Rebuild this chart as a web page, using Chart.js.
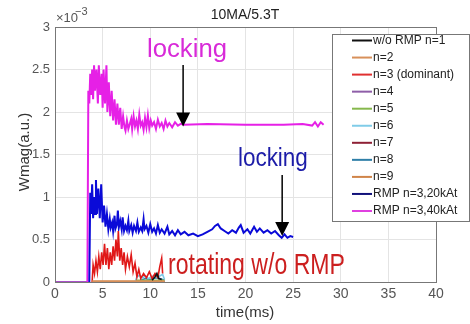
<!DOCTYPE html>
<html>
<head>
<meta charset="utf-8">
<script src="https://cdn.jsdelivr.net/npm/chart.js@4/dist/chart.umd.min.js"></script>
<style>
  body { margin: 0; background: #fff; }
  canvas { display: block; }
</style>
</head>
<body>
<canvas id="chart" width="470" height="324"></canvas>
<script>
// Values are in units of 1e-3 (see the x10^-3 label)
const xTicks = [0, 5, 10, 15, 20, 25, 30, 35, 40];
const yTicks = [0, 0.5, 1, 1.5, 2, 2.5, 3];

// RMP n=3, 40kAt (magenta)
const rmp40Time = [
  0, 3.4, 3.5, 3.6, 3.7, 3.8, 3.9, 4.0, 4.1, 4.2,
  4.35, 4.5, 4.6, 4.75, 4.9, 5.0, 5.1, 5.25, 5.4, 5.5,
  5.65, 5.8, 5.95, 6.1, 6.25, 6.4,
  6.55, 6.7, 6.85, 7.0, 7.15, 7.3, 7.4, 7.55, 7.7, 7.85,
  8.0, 8.1, 8.25, 8.4, 8.55, 8.7, 8.85, 9.0, 9.15, 9.3,
  9.45, 9.6, 9.75, 9.9, 10.05, 10.2, 10.4, 10.6, 10.8, 11.0,
  11.2, 11.4, 11.6, 11.8, 12.0, 12.3, 12.6, 12.9, 13.2, 13.5,
  16, 20, 24, 26, 27.0, 27.3, 27.6, 27.9, 28.2,
];
const rmp40Val = [
  0, 0, 2.25, 2.1, 2.45, 2.2, 2.5, 2.15, 2.55, 2.25,
  2.5, 2.1, 2.55, 2.2, 2.45, 2.05, 2.5, 2.1, 2.55, 2.0,
  2.35, 1.95, 2.25, 1.9, 2.15, 1.85,
  2.1, 1.85, 2.05, 1.8, 1.95, 1.82, 1.78, 1.9, 1.8, 1.86,
  1.92, 1.8, 1.95, 1.83, 1.9, 1.8, 1.97, 1.84, 1.88, 1.79,
  1.93, 1.82, 1.96, 1.81, 1.9, 1.84, 1.88, 1.8, 1.91, 1.83,
  1.87, 1.8, 1.9, 1.83, 1.87, 1.82, 1.88, 1.84, 1.86, 1.85,
  1.86, 1.85, 1.85, 1.86, 1.84, 1.88, 1.83, 1.88, 1.85,
];

// RMP n=3, 20kAt (blue)
const rmp20Time = [
  3.6, 3.7, 3.8, 3.9, 4.0, 4.1, 4.2, 4.3, 4.4, 4.55,
  4.7, 4.85, 5.0, 5.15, 5.3, 5.45,
  5.6, 5.75, 5.85, 6.0, 6.1, 6.25, 6.35, 6.5, 6.6, 6.7,
  6.85, 7.0, 7.1, 7.25, 7.4, 7.55, 7.7, 7.8, 8.0, 8.15,
  8.3, 8.5, 8.65, 8.8, 9.0, 9.15, 9.3, 9.4, 9.6, 9.8,
  10.0, 10.2, 10.4, 10.6, 10.8, 11.0, 11.2, 11.5, 11.8, 12.0,
  12.3, 12.6, 12.9, 13.2, 13.6, 14.0, 14.5, 15.0, 15.5, 16.0,
  16.5, 16.8, 17.1, 17.4, 17.8, 18.2, 18.6, 19.0, 19.3, 19.5,
  19.8, 20.2, 20.5, 20.9, 21.2, 21.5, 21.9, 22.3, 22.7, 23.1,
  23.5, 23.8, 24.1, 24.4, 24.7, 25.0,
];
const rmp20Val = [
  0, 1.05, 0.8, 1.15, 0.75, 1.0, 0.8, 1.2, 0.8, 1.1,
  0.75, 1.15, 0.7, 0.9, 0.65, 0.8,
  0.62, 0.74, 0.64, 0.7, 0.6, 0.78, 0.63, 0.68, 0.84, 0.64,
  0.72, 0.62, 0.76, 0.6, 0.66, 0.61, 0.72, 0.6, 0.67, 0.58,
  0.66, 0.6, 0.7, 0.59, 0.64, 0.6, 0.74, 0.62, 0.66, 0.58,
  0.68, 0.59, 0.63, 0.57, 0.67, 0.58, 0.62, 0.57, 0.65, 0.56,
  0.6, 0.55, 0.61, 0.56, 0.59, 0.55, 0.57, 0.54, 0.56, 0.59,
  0.62, 0.66, 0.68, 0.63, 0.6, 0.57, 0.61, 0.58, 0.64, 0.67,
  0.58, 0.62, 0.57, 0.65, 0.59, 0.63, 0.58, 0.61, 0.57, 0.6,
  0.55, 0.52, 0.56, 0.52, 0.54, 0.53,
];

// w/o RMP, n=3 (dominant, red)
const n3Time = [3.9, 4.0, 4.15, 4.3, 4.45, 4.6, 4.75, 4.9, 5.05, 5.2, 5.35, 5.5, 5.65, 5.8, 5.95, 6.1, 6.25, 6.4, 6.55, 6.65, 6.8, 6.95, 7.1, 7.25, 7.4, 7.6, 7.8, 8.0, 8.2, 8.4, 8.6, 8.8, 9.0, 9.3, 9.6, 9.9, 10.2, 10.5, 10.8, 11.0, 11.2, 11.3];
const n3Val = [0, 0.2, 0.1, 0.25, 0.12, 0.3, 0.15, 0.35, 0.2, 0.45, 0.2, 0.4, 0.15, 0.35, 0.2, 0.42, 0.25, 0.5, 0.3, 0.6, 0.25, 0.4, 0.2, 0.35, 0.15, 0.3, 0.18, 0.32, 0.12, 0.22, 0.06, 0.15, 0.04, 0.1, 0.05, 0.12, 0.04, 0.1, 0.05, 0.18, 0.28, 0.1];

// the small modes, near zero
const n1Time = [10.2, 10.5, 10.7, 10.9, 11.2];
const n1Val = [0.02, 0.06, 0.1, 0.04, 0.03];
const n2Time = [3.9, 11.5];
const n2Val = [0.01, 0.01];
const n4Time = [0, 3.3];
const n4Val = [0, 0];
const n5Time = [8.5, 11.5];
const n5Val = [0.02, 0.02];
const n6Time = [8.4, 8.6, 8.9, 9.2, 9.5, 9.8, 10.1, 10.4, 10.7, 11.0, 11.3, 11.5];
const n6Val = [0, 0.06, 0.08, 0.05, 0.07, 0.04, 0.06, 0.08, 0.05, 0.07, 0.09, 0.03];
const n7Time = [4.0, 11.5];
const n7Val = [0, 0];
const n8Time = [9.0, 9.5, 10.0, 10.5, 11.0, 11.5];
const n8Val = [0.02, 0.04, 0.03, 0.05, 0.04, 0.02];
const n9Time = [4.0, 11.5];
const n9Val = [0.005, 0.005];

const labels = ["w/o RMP n=1", "n=2", "n=3 (dominant)", "n=4", "n=5", "n=6", "n=7", "n=8", "n=9", "RMP n=3,20kAt", "RMP n=3,40kAt"];

function pts(t, v) {
  return t.map((x, i) => ({ x: x, y: v[i] }));
}

function line(label, color, t, v, width) {
  return {
    label: label,
    data: pts(t, v),
    borderColor: color,
    backgroundColor: color,
    borderWidth: width || 1.6,
    pointRadius: 0,
    tension: 0,
  };
}

const datasets = [
  line(labels[0], "#111111", n1Time, n1Val),
  line(labels[1], "#d8905a", n2Time, n2Val),
  line(labels[2], "#e01818", n3Time, n3Val),
  line(labels[3], "#9a5fc0", n4Time, n4Val),
  line(labels[4], "#84b84a", n5Time, n5Val),
  line(labels[5], "#7cc8e8", n6Time, n6Val),
  line(labels[6], "#8e1f35", n7Time, n7Val),
  line(labels[7], "#2a7fb0", n8Time, n8Val),
  line(labels[8], "#c88040", n9Time, n9Val),
  line(labels[9], "#0a0ad8", rmp20Time, rmp20Val, 2),
  line(labels[10], "#e620e6", rmp40Time, rmp40Val, 2),
];

// legend line colours (slightly softer than the traces)
const legendColors = ["#111111", "#d8905a", "#e03030", "#8e5ea8", "#86b84c", "#80cce8", "#8e2035", "#2f7fa8", "#d08448", "#10107a", "#e040e0"];

// draw text squeezed to a given width (the original uses a narrow face)
function squeezeText(ctx, text, x, y, width) {
  const w = ctx.measureText(text).width;
  ctx.save();
  ctx.translate(x, y);
  ctx.scale(width / w, 1);
  ctx.fillText(text, 0, 0);
  ctx.restore();
}

function arrow(ctx, x, y0, tip) {
  ctx.strokeStyle = "#000";
  ctx.fillStyle = "#000";
  ctx.lineWidth = 1.5;
  ctx.beginPath();
  ctx.moveTo(x, y0);
  ctx.lineTo(x, tip - 12);
  ctx.stroke();
  ctx.beginPath();
  ctx.moveTo(x - 7, tip - 14);
  ctx.lineTo(x + 7, tip - 14);
  ctx.lineTo(x, tip);
  ctx.closePath();
  ctx.fill();
}

const overlay = {
  id: "overlay",
  afterDraw(chart) {
    const { ctx, chartArea: a, scales } = chart;
    const px = (t) => scales.x.getPixelForValue(t);
    const py = (v) => scales.y.getPixelForValue(v);
    ctx.save();

    // axes box
    ctx.strokeStyle = "#777";
    ctx.lineWidth = 1;
    ctx.strokeRect(a.left + 0.5, a.top + 0.5, a.right - a.left, a.bottom - a.top);

    // title and exponent
    ctx.fillStyle = "#222";
    ctx.font = "14px 'Liberation Sans', Arial, sans-serif";
    ctx.textAlign = "center";
    ctx.textBaseline = "alphabetic";
    ctx.fillText("10MA/5.3T", 245, 19);
    ctx.textAlign = "left";
    ctx.fillStyle = "#555";
    ctx.font = "13px 'Liberation Sans', Arial, sans-serif";
    ctx.fillText("\u00d710", 56, 22);
    ctx.font = "11px 'Liberation Sans', Arial, sans-serif";
    ctx.fillText("\u22123", 75, 15);

    // axis titles
    ctx.fillStyle = "#333";
    ctx.font = "15px 'Liberation Sans', Arial, sans-serif";
    ctx.textAlign = "center";
    ctx.fillText("time(ms)", 245, 317);
    ctx.save();
    ctx.translate(29, 152);
    ctx.rotate(-Math.PI / 2);
    ctx.fillText("Wmag(a.u.)", 0, 0);
    ctx.restore();

    // annotations
    ctx.textAlign = "left";
    ctx.font = "26px 'Liberation Sans', Arial, sans-serif";
    ctx.fillStyle = "#d82ad8";
    squeezeText(ctx, "locking", px(9.66), py(2.647), 80);
    ctx.fillStyle = "#1c1ca8";
    squeezeText(ctx, "locking", px(19.2), py(1.365), 70);
    ctx.font = "29px 'Liberation Sans', Arial, sans-serif";
    ctx.fillStyle = "#cc1f1f";
    squeezeText(ctx, "rotating w/o RMP", px(11.86), py(0.094), 177);

    arrow(ctx, px(13.45), 65, py(1.83));
    arrow(ctx, px(23.85), 175, py(0.54));

    // legend box
    const lx = 332, ly = 34, lw = 137, lh = 187;
    ctx.fillStyle = "#fff";
    ctx.fillRect(lx, ly, lw, lh);
    ctx.strokeStyle = "#777";
    ctx.lineWidth = 1;
    ctx.strokeRect(lx + 0.5, ly + 0.5, lw, lh);
    ctx.font = "12px 'Liberation Sans', Arial, sans-serif";
    ctx.textBaseline = "middle";
    labels.forEach((label, i) => {
      const yy = 40.5 + i * 17.05;
      ctx.strokeStyle = legendColors[i];
      ctx.lineWidth = 2;
      ctx.beginPath();
      ctx.moveTo(352, yy);
      ctx.lineTo(372, yy);
      ctx.stroke();
      ctx.fillStyle = "#222";
      ctx.fillText(label, 373, yy);
    });

    ctx.restore();
  },
};

new Chart(document.getElementById("chart"), {
  type: "line",
  data: { datasets: datasets },
  options: {
    responsive: false,
    animation: false,
    layout: { padding: { top: 27, right: 34, left: 0, bottom: 0 } },
    plugins: {
      legend: { display: false },
      tooltip: { enabled: false },
    },
    scales: {
      x: {
        type: "linear",
        min: 0,
        max: 40,
        afterBuildTicks: (scale) => {
          scale.ticks = xTicks.map((v) => ({ value: v }));
        },
        afterFit: (scale) => {
          scale.height = 42;
        },
        ticks: {
          color: "#555",
          font: { size: 14, family: "'Liberation Sans', Arial, sans-serif" },
          padding: 4,
          maxRotation: 0,
        },
        grid: { color: "#e4e4e4", drawTicks: false },
        border: { display: false },
      },
      y: {
        min: 0,
        max: 3,
        afterBuildTicks: (scale) => {
          scale.ticks = yTicks.map((v) => ({ value: v }));
        },
        afterFit: (scale) => {
          scale.width = 55;
        },
        ticks: {
          color: "#555",
          font: { size: 13, family: "'Liberation Sans', Arial, sans-serif" },
          padding: 5,
          callback: (value) => String(value),
        },
        grid: { color: "#e4e4e4", drawTicks: false },
        border: { display: false },
      },
    },
  },
  plugins: [overlay],
});
</script>
</body>
</html>
